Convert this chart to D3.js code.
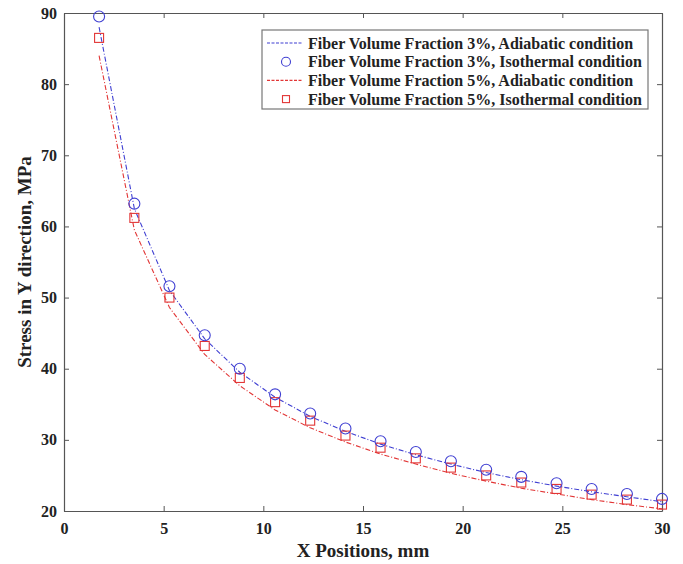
<!DOCTYPE html>
<html>
<head>
<meta charset="utf-8">
<script src="https://cdn.jsdelivr.net/npm/d3@7"></script>
<style>
  body { margin: 0; background: #fff; }
  text { font-family: "Liberation Serif", "Times New Roman", serif; font-weight: bold; }
</style>
</head>
<body>
<div id="chart"></div>
<script>
// x positions (mm) of the sample points
var xPos = [1.76, 3.53, 5.29, 7.06, 8.82, 10.59, 12.35, 14.12, 15.88, 17.65, 19.41, 21.18, 22.94, 24.71, 26.47, 28.24, 30];
// stress values
var adiabatic3 = [88.0, 62.5, 51.0, 44.2, 39.5, 36.0, 33.3, 31.2, 29.4, 27.9, 26.6, 25.4, 24.4, 23.5, 22.7, 22.0, 21.3];
var isothermal3 = [89.5, 63.2, 51.6, 44.7, 40.0, 36.4, 33.7, 31.6, 29.8, 28.3, 27.0, 25.8, 24.8, 23.9, 23.1, 22.4, 21.7];
var adiabatic5 = [84.0, 59.5, 48.6, 42.0, 37.6, 34.2, 31.7, 29.7, 28.0, 26.6, 25.3, 24.2, 23.2, 22.4, 21.6, 20.9, 20.3];
var isothermal5 = [86.5, 61.2, 50.0, 43.2, 38.7, 35.3, 32.7, 30.6, 28.9, 27.4, 26.1, 25.0, 24.0, 23.1, 22.3, 21.6, 20.9];
var xTicks = [0, 5, 10, 15, 20, 25, 30];
var yTicks = [20, 30, 40, 50, 60, 70, 80, 90];
var legendLabels = [
  "Fiber Volume Fraction 3%, Adiabatic condition",
  "Fiber Volume Fraction 3%, Isothermal condition",
  "Fiber Volume Fraction 5%, Adiabatic condition",
  "Fiber Volume Fraction 5%, Isothermal condition"
];

var W = 683, H = 564;
var margin = {top: 13, right: 21, bottom: 53, left: 64};
var width = W - margin.left - margin.right;
var height = H - margin.top - margin.bottom;

var blue = "#3f3fd2", red = "#e23636";

var svg = d3.select("#chart").append("svg")
    .attr("width", W).attr("height", H);
var g = svg.append("g")
    .attr("transform", "translate(" + margin.left + "," + margin.top + ")");

var x = d3.scaleLinear().domain([0, 30]).range([0, width]);
var y = d3.scaleLinear().domain([20, 90]).range([height, 0]);

// axes, ticks pointing inward; mirrored on top and right
var axisStyle = function(sel) {
  sel.select(".domain").attr("stroke", "#555").attr("stroke-width", 1.2);
  sel.selectAll(".tick line").attr("stroke", "#555");
  sel.selectAll("text").attr("font-size", 16).attr("fill", "#222");
};
g.append("g").attr("transform", "translate(0," + height + ")")
  .call(d3.axisBottom(x).tickValues(xTicks).tickSizeInner(-5).tickSizeOuter(0).tickPadding(12))
  .call(axisStyle);
g.append("g")
  .call(d3.axisLeft(y).tickValues(yTicks).tickSizeInner(-5).tickSizeOuter(0).tickPadding(7))
  .call(axisStyle);
g.append("g")
  .call(d3.axisTop(x).tickValues(xTicks).tickSizeInner(-5).tickSizeOuter(0).tickFormat(""))
  .call(axisStyle);
g.append("g").attr("transform", "translate(" + width + ",0)")
  .call(d3.axisRight(y).tickValues(yTicks).tickSizeInner(-5).tickSizeOuter(0).tickFormat(""))
  .call(axisStyle);

// axis labels
svg.append("text")
  .attr("x", margin.left + width / 2).attr("y", 557)
  .attr("text-anchor", "middle").attr("font-size", 19).attr("fill", "#222")
  .text("X Positions, mm");
svg.append("text")
  .attr("transform", "translate(31," + (margin.top + height / 2) + ") rotate(-90)")
  .attr("text-anchor", "middle").attr("font-size", 19).attr("fill", "#222")
  .text("Stress in Y direction, MPa");

function pts(vals) { return vals.map(function(v, i) { return [xPos[i], v]; }); }
var line = d3.line().x(function(d) { return x(d[0]); }).y(function(d) { return y(d[1]); });

// adiabatic curves (dash-dot)
g.append("path").datum(pts(adiabatic3))
  .attr("d", line).attr("fill", "none").attr("stroke", blue)
  .attr("stroke-width", 1.1).attr("stroke-dasharray", "5,2,1,2");
g.append("path").datum(pts(adiabatic5))
  .attr("d", line).attr("fill", "none").attr("stroke", red)
  .attr("stroke-width", 1.1).attr("stroke-dasharray", "5,2,1,2");

// isothermal markers
g.selectAll(".sq").data(pts(isothermal5)).enter().append("rect")
  .attr("class", "sq")
  .attr("x", function(d) { return x(d[0]) - 4.5; })
  .attr("y", function(d) { return y(d[1]) - 4.5; })
  .attr("width", 9).attr("height", 9)
  .attr("fill", "none").attr("stroke", red).attr("stroke-width", 1.1);
g.selectAll(".circ").data(pts(isothermal3)).enter().append("circle")
  .attr("class", "circ")
  .attr("cx", function(d) { return x(d[0]); })
  .attr("cy", function(d) { return y(d[1]); })
  .attr("r", 5.5)
  .attr("fill", "none").attr("stroke", blue).attr("stroke-width", 1.1);

// legend
var lg = svg.append("g").attr("transform", "translate(262,30)");
lg.append("rect").attr("width", 386).attr("height", 79)
  .attr("fill", "#fff").attr("stroke", "#777").attr("stroke-width", 1.2);
var entries = [
  {type: "line", color: blue},
  {type: "circle", color: blue},
  {type: "line", color: red},
  {type: "square", color: red}
];
entries.forEach(function(e, i) {
  var cy = 13 + i * 18.7;
  if (e.type === "line") {
    lg.append("line").attr("x1", 5).attr("x2", 41).attr("y1", cy).attr("y2", cy)
      .attr("stroke", e.color).attr("stroke-width", 1.1).attr("stroke-dasharray", "3,1.5");
  } else if (e.type === "circle") {
    lg.append("circle").attr("cx", 24).attr("cy", cy).attr("r", 4.5)
      .attr("fill", "none").attr("stroke", e.color).attr("stroke-width", 1.1);
  } else {
    lg.append("rect").attr("x", 20.5).attr("y", cy - 3.5).attr("width", 7).attr("height", 7)
      .attr("fill", "none").attr("stroke", e.color).attr("stroke-width", 1.1);
  }
  lg.append("text").attr("x", 46).attr("y", cy + 5.5)
    .attr("font-size", 16).attr("fill", "#222")
    .text(legendLabels[i]);
});
</script>
</body>
</html>
